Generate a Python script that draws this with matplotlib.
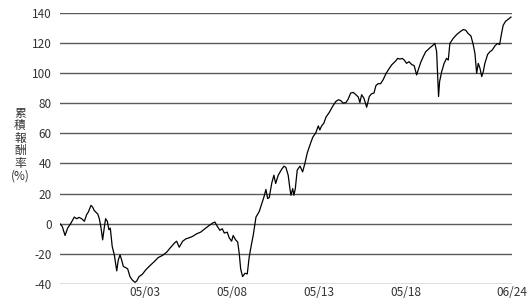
import matplotlib.pyplot as plt
import numpy as np

plt.rcParams['font.family'] = ['Noto Sans CJK TC', 'DejaVu Sans']

# 累積報酬率 (decimal year, %)
years = [
    1998.45, 1998.58, 1998.74, 1998.89, 1999.08, 1999.27, 1999.41, 1999.54, 1999.70, 1999.85,
    1999.98, 2000.08, 2000.23, 2000.33, 2000.42, 2000.62, 2000.71, 2000.81, 2000.90, 2000.99,
    2001.07, 2001.17, 2001.26, 2001.34, 2001.45, 2001.57, 2001.71, 2001.80, 2001.90, 2001.99,
    2002.09, 2002.22, 2002.34, 2002.47, 2002.60, 2002.76, 2002.86, 2002.99, 2003.18, 2003.37,
    2003.62, 2003.87, 2004.10, 2004.33, 2004.58, 2004.77, 2005.02,
    2005.15, 2005.30, 2005.50, 2005.69, 2005.88, 2006.07, 2006.30, 2006.53, 2006.78, 2007.03,
    2007.22, 2007.35, 2007.49, 2007.64, 2007.77, 2007.89, 2008.06, 2008.17, 2008.31, 2008.40,
    2008.54, 2008.66, 2008.75, 2008.83, 2008.94, 2009.08, 2009.21, 2009.32, 2009.42, 2009.55,
    2009.71, 2009.90, 2010.04, 2010.17, 2010.28, 2010.38, 2010.47,
    2010.62, 2010.74, 2010.84, 2010.99, 2011.18, 2011.32, 2011.43, 2011.56, 2011.66, 2011.72,
    2011.82, 2011.89, 2011.97, 2012.08, 2012.24, 2012.39, 2012.52, 2012.66, 2012.81, 2012.97,
    2013.15, 2013.29, 2013.38, 2013.48, 2013.61, 2013.73, 2013.92, 2014.11, 2014.30, 2014.44,
    2014.57, 2014.72, 2014.88, 2015.01, 2015.15, 2015.30, 2015.45, 2015.59, 2015.68, 2015.78,
    2015.91, 2016.07, 2016.22, 2016.35, 2016.49, 2016.60, 2016.73, 2016.87, 2017.02, 2017.18,
    2017.31,
    2017.50, 2017.73, 2017.85, 2017.98, 2018.11, 2018.23, 2018.36, 2018.50, 2018.65, 2018.80,
    2018.94, 2019.03, 2019.19, 2019.32, 2019.46, 2019.57, 2019.70, 2019.84, 2019.99, 2020.09,
    2020.15, 2020.20, 2020.26, 2020.38, 2020.52, 2020.66, 2020.76, 2020.85, 2021.04, 2021.24,
    2021.43, 2021.62, 2021.76, 2021.90, 2022.06, 2022.19, 2022.29, 2022.39, 2022.48, 2022.58,
    2022.68, 2022.77, 2022.86, 2023.02, 2023.15, 2023.28, 2023.44, 2023.59, 2023.71, 2023.82,
    2023.91, 2024.05, 2024.20, 2024.36,
]
returns = [
    0, -1.8, -7.8, -2.9, 0.4, 4.4, 3.3, 4.2, 3.3, 1.6,
    6, 7.8, 12.2, 10.9, 8.7, 6.4, 3.3, -2.9, -10.7, -2.9,
    3.3, 1.6, -4, -2.9, -15.1, -20.7, -31.3, -24, -20.7, -24,
    -28.4, -29.1, -30, -35.1, -37.3, -38.9, -38, -35.1, -33.6, -30.7,
    -27.8, -25.1, -22.4, -21.1, -18.9, -16.2, -12.9,
    -11.6, -15.6, -11.6, -10, -9.3, -8.4, -6.7, -5.6, -3.3, -1.1,
    0.4, 1.1, -1.8, -4.4, -3.3, -6.2, -5.6, -9.3, -11.6, -7.8,
    -10.7, -12.2, -20, -30, -35.1, -32.9, -33.3, -22.2, -15.6, -7.8,
    4.4, 8.2, 13.3, 17.8, 22.7, 16.7, 17.3,
    27.1, 32.2, 26.7, 32.2, 36, 38.2, 37.3, 32.2, 23.3, 18.9,
    23.3, 18.9, 23.3, 35.6, 38.2, 34.4, 40, 47.1, 52.2, 57.3,
    60.4, 64.9, 62.2, 64.9, 66.7, 70.7, 73.8, 77.8, 81.1, 82.2,
    81.8, 80, 80.4, 82.7, 86.7, 87.1, 85.6, 84, 80.4, 85.6,
    83.3, 77.3, 84.4, 86.2, 86.7, 91.6, 92.9, 92.9, 95.6, 99.6,
    102,
    105.3, 107.9, 109.7, 109.2, 109.7, 108.6, 106.4, 107.5, 105.7, 104.8,
    98.7, 102, 107.5, 110.8, 114.1, 115.2, 116.7, 118, 119.6, 114.1,
    97.6, 84.4, 94.3, 100.9, 106.4, 109.7, 108.6, 119.6, 122.9, 125.5,
    127.3, 128.8, 128.4, 126.2, 124.6, 118.9, 113, 99.8, 106.4, 103.1,
    97.6, 100.9, 106.4, 112.3, 114.1, 115.2, 118, 119.6, 118.9, 126.2,
    131.6, 134.3, 135.6, 137.1,
]

tick_pos = [2003.33, 2008.33, 2013.33, 2018.33, 2024.42]
tick_labels = ['05/03', '05/08', '05/13', '05/18', '06/24']
y_ticks = list(range(-40, 141, 20))
ylabel_parts = ['累', '積', '報', '酬', '率', '(%)']

fig = plt.figure(figsize=(5.29, 3.01), dpi=100)
ax = fig.add_axes([60/529, 1 - 284/301, 452/529, (284 - 12.7)/301])

for y in y_ticks:
    ax.axhline(y, color='#5a5a5a', lw=1.0, zorder=1)
ax.plot(years, returns, color='black', lw=0.9, zorder=3)

ax.set_xlim(1998.45, 2024.42)
ax.set_ylim(-40, 140)
ax.set_yticks(y_ticks)
ax.set_yticklabels([str(v) for v in y_ticks])
ax.set_xticks(tick_pos)
ax.set_xticklabels(tick_labels)
ax.tick_params(length=0, labelsize=8.5, colors='#333333')
ax.tick_params(axis='y', pad=6)
ax.tick_params(axis='x', pad=1.5)
for s in ax.spines.values():
    s.set_visible(False)

# vertical y label, one character per line
for i, ch in enumerate(ylabel_parts):
    fig.text(20/529, 1 - (113 + i*12.6)/301, ch, ha='center', va='center',
             fontsize=8.5, color='#333333')

fig.savefig('out.png', dpi=100)
